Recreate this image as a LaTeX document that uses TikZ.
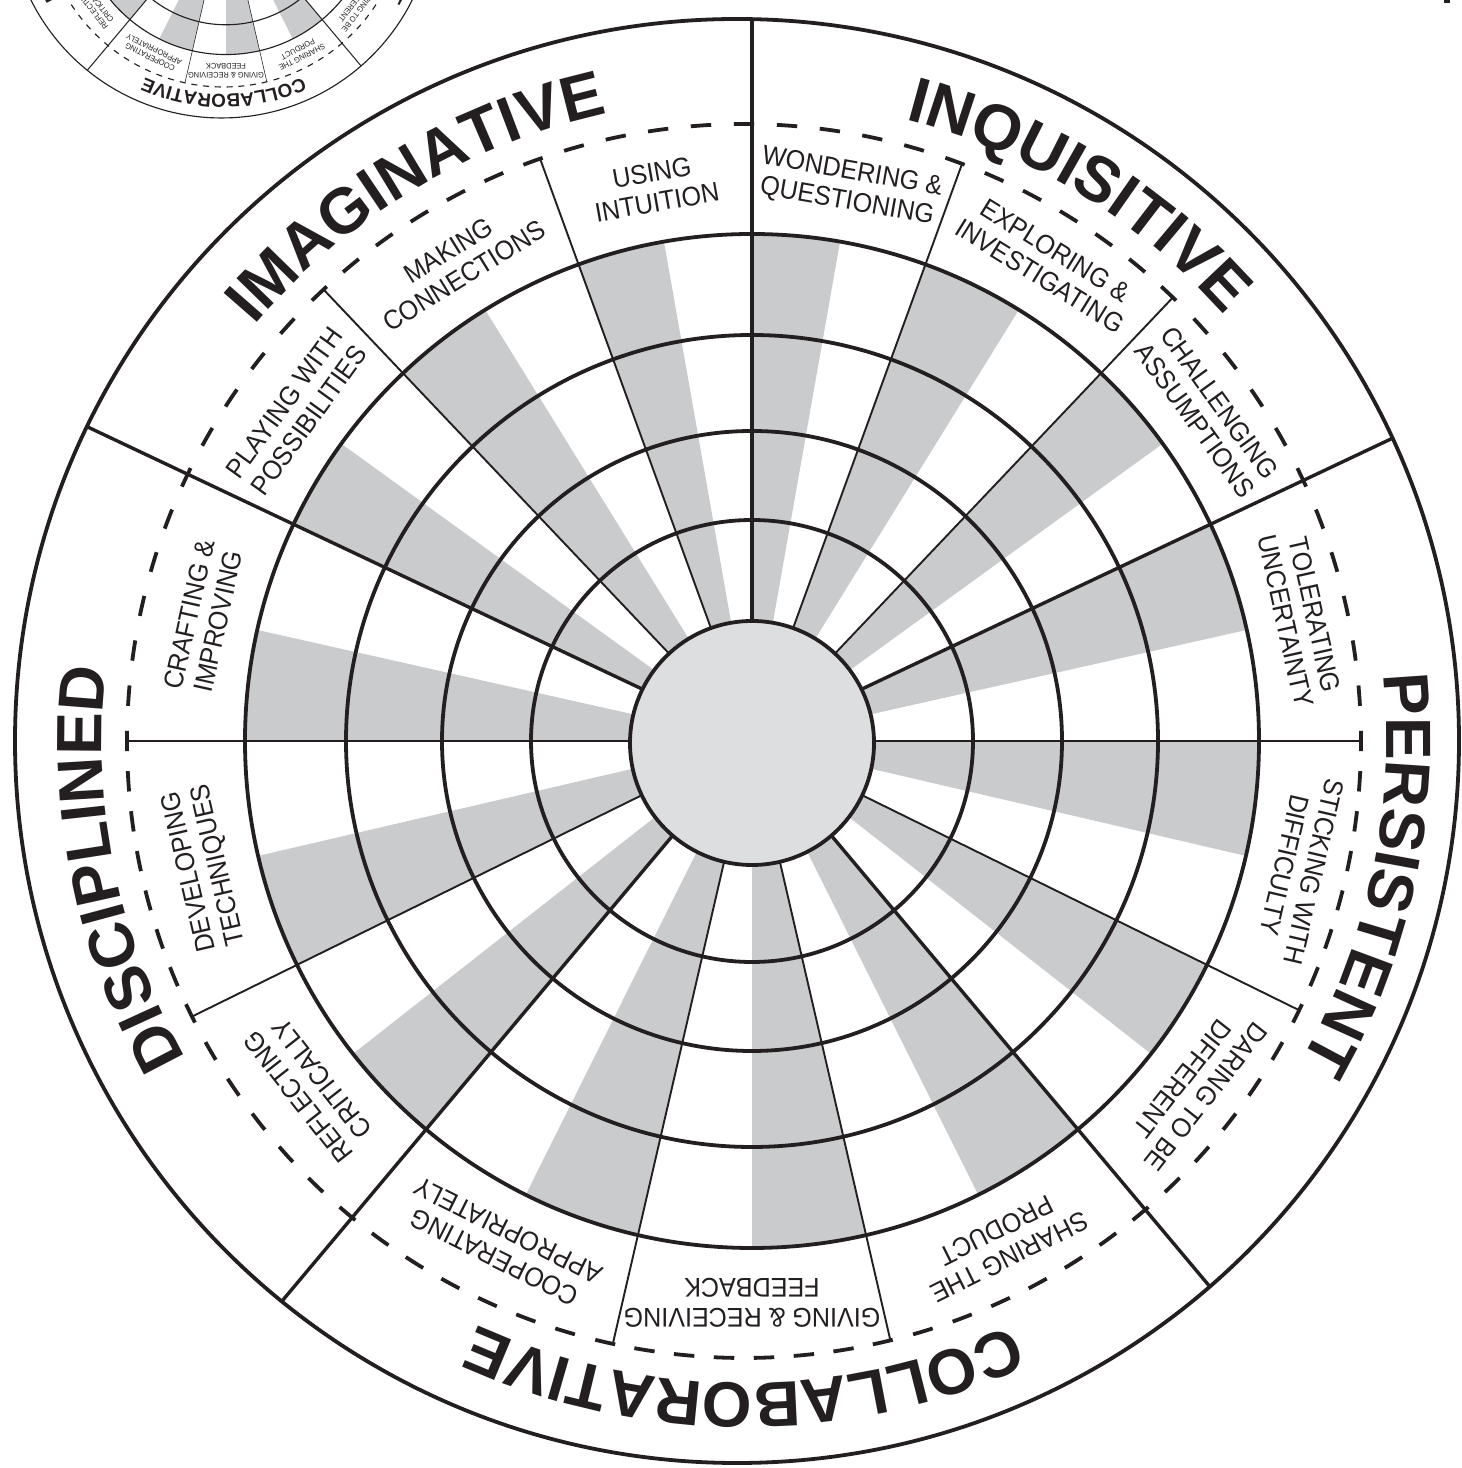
\documentclass[tikz,border=0pt]{standalone}
\usepackage{fontspec}
\setmainfont{Liberation Sans}
\newfontfamily\labelfont[FakeStretch=0.93]{Liberation Sans}
\usetikzlibrary{calc,decorations.text}

\definecolor{ink}{RGB}{35,31,32}
\definecolor{wedgegrey}{RGB}{202,203,205}
\definecolor{hubgrey}{RGB}{221,222,224}

\tikzset{
  % --- rings, spokes, dashes -------------------------------------------------
  ring/.style={draw=ink,line width=\lwA pt},
  catspoke/.style={draw=ink,line width=\lwC pt},
  subspoke/.style={draw=ink,line width=\lwB pt},
  dashseg/.style={draw=ink,line width=\lwA pt},
  % --- texts -----------------------------------------------------------------
  sublabel/.style={align=center,inner sep=0pt,text=ink,
                   font=\labelfont\fontsize{\labfs}{\labsk}\selectfont},
  cattext/.style={decorate,decoration={text along path,text align=center,
                  text color=ink}},
}
\newcommand{\catfont}{\fontsize{\catfs}{\catfs}\selectfont\bfseries}

% #1,#2 = centre, #3 = scale, #4 = last word of "sharing the ..."
\newcommand{\drawwheel}[4]{%
  \pgfmathsetmacro{\lwA}{3.8*#3}%
  \pgfmathsetmacro{\lwB}{1.9*#3}%
  \pgfmathsetmacro{\lwC}{3.4*#3}%
  \pgfmathsetmacro{\catfs}{64*#3}%
  \pgfmathsetmacro{\labfs}{27*#3}%
  \pgfmathsetmacro{\labsk}{30*#3}%
  \begin{scope}[shift={(#1,#2)},scale=#3]
    % ---- grey half of every sector ----
    \foreach \a/\b in {90/70,70/46.5,46.5/25.3,25.3/0,0/-26.2,-26.2/-50,
                       -50/-77,-77/-103,-103/-130,-130/-153.8,-153.8/-180,
                       -180/-205.3,-205.3/-226.5,-226.5/-250,-250/-270}
      \fill[wedgegrey] (0,0) -- (\a:507)
            arc[start angle=\a,end angle={(\a+\b)/2},radius=507] -- cycle;
    % ---- rings ----
    \foreach \r in {221,310,406,507}
      \draw[ring] (0,0) circle[radius=\r];
    % ---- thin spokes, out to the dashed ring ----
    \foreach \a in {70,46.5,0,-26.2,-77,-103,-153.8,-180,-226.5,-250}
      \draw[subspoke] (\a:120) -- (\a:{617-8*cos(\a)});
    % ---- dashed ring ----
    \foreach \a/\b in {90/70,70/46.5,46.5/25.3,25.3/0,0/-26.2,-26.2/-50,
                       -50/-77,-77/-103,-103/-130,-130/-153.8,-153.8/-180,
                       -180/-205.3,-205.3/-226.5,-226.5/-250,-250/-270} {
      \pgfmathtruncatemacro{\nd}{round((\a-\b)/3.9)}
      \pgfmathsetmacro{\st}{(\a-\b)/\nd}
      \foreach \k in {1,...,\nd} {
        \pgfmathsetmacro{\ms}{\a-(\k-1)*\st+0.95}
        \pgfmathsetmacro{\me}{\ms-1.9}
        \draw[dashseg] ([shift={(-8,0)}]\ms:617)
              arc[start angle=\ms,end angle=\me,radius=617];
      }
    }
    % ---- the five long spokes ----
    \begin{scope}
      \clip (-15,0) circle[radius=722];
      \foreach \a in {90,25.3,-50,-130,-205.3}
        \draw[catspoke] (\a:120) -- (\a:760);
    \end{scope}
    \draw[ring] (-15,0) circle[radius=722];
    % ---- hub ----
    \filldraw[fill=hubgrey,draw=ink,line width=\lwA pt] (0,-2) circle[radius=122];
    % ---- sector labels ----
    \foreach \m/\t [count=\i] in {80/{WONDERING \&\\QUESTIONING},
        58.25/{EXPLORING \&\\INVESTIGATING},
        35.9/{CHALLENGING\\ASSUMPTIONS},
        12.65/{TOLERATING\\UNCERTAINTY},
        -13.1/{STICKING WITH\\DIFFICULTY},
        -38.1/{DARING TO BE\\DIFFERENT},
        -63.5/{SHARING THE\\#4},
        -90/{GIVING \& RECEIVING\\FEEDBACK},
        -116.5/{COOPERATING\\APPROPRIATELY},
        -141.9/{REFLECTING\\CRITICALLY},
        -166.9/{DEVELOPING\\TECHNIQUES},
        -192.65/{CRAFTING \&\\IMPROVING},
        -215.9/{PLAYING WITH\\POSSIBILITIES},
        -238.25/{MAKING\\CONNECTIONS},
        -260/{USING\\INTUITION}}
      \node[sublabel,rotate=\m-90] (sub\i) at (\m:562) {\t};
    % ---- category names round the rim ----
    \path[cattext,decoration={text={|\catfont|IMAGINATIVE}}]
      ([shift={(-8,0)}]166:642) arc[start angle=166,end angle=76,radius=642];
    \path[cattext,decoration={text={|\catfont|INQUISITIVE}}]
      ([shift={(-8,0)}]103.5:642) arc[start angle=103.5,end angle=13.5,radius=642];
    \path[cattext,decoration={text={|\catfont|PERSISTENT}}]
      ([shift={(-8,0)}]33:642) arc[start angle=33,end angle=-57,radius=642];
    \path[cattext,decoration={text={|\catfont|COLLABORATIVE}}]
      ([shift={(-8,0)}]-45:642) arc[start angle=-45,end angle=-135,radius=642];
    \path[cattext,decoration={text={|\catfont|DISCIPLINED}}]
      ([shift={(-8,0)}]-123.5:642) arc[start angle=-123.5,end angle=-213.5,radius=642];
  \end{scope}}

\begin{document}
\begin{tikzpicture}[x=1pt,y=1pt]
  \fill[white] (0,0) rectangle (1462,1468);
  \useasboundingbox (0,0) rectangle (1462,1468);

  % ---- small copy, cut off by the top edge ----
  \begin{scope}
    \clip (0,0) rectangle (1462,1468);
    \drawwheel{226}{1563}{0.295}{PORDUCT}
  \end{scope}

  % ---- the wheel ----
  \drawwheel{752}{727}{1}{PRODUCT}

  % ---- fleck at the top right ----
  \fill[ink] (1444,1465) rectangle (1450,1468);
\end{tikzpicture}
\end{document}
